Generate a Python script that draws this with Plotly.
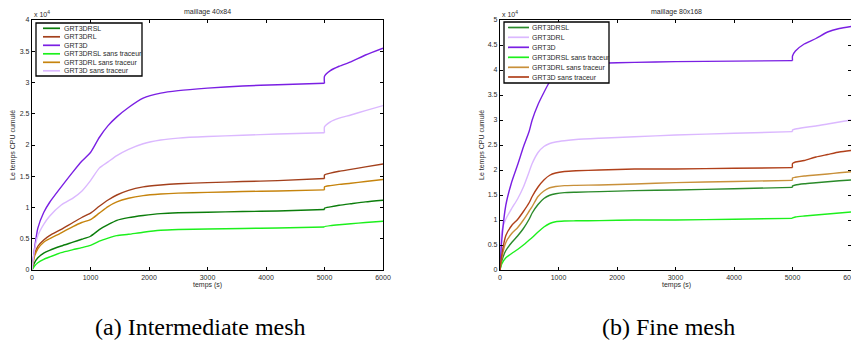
import plotly.graph_objects as go

# ---------------- data ----------------
# Left panel: maillage 40x84 (the restart at t=5000 appears as two consecutive samples at 5000)
t_left = [0, 40, 100, 200, 300, 500, 700, 850, 1000, 1150, 1300, 1450, 1650, 1900,
          2200, 2500, 3000, 3600, 4200, 5000, 5000, 5100, 5250, 5450, 5700, 6000]
left_grt3drsl = [0, 1100, 1950, 2700, 3150, 3840, 4450, 4920, 5400, 6450, 7250, 7950, 8380, 8720,
                 9020, 9150, 9250, 9350, 9450, 9670, 9900, 10100, 10350, 10600, 10900, 11170]
left_grt3drl = [0, 2400, 3800, 4800, 5500, 6500, 7600, 8400, 9100, 10200, 11200, 12000, 12750, 13300,
                13600, 13800, 13980, 14150, 14300, 14630, 15200, 15500, 15800, 16100, 16500, 16950]
left_grt3d = [0, 3200, 6700, 9200, 10800, 13300, 15700, 17400, 18800, 21200, 23100, 24500, 26000, 27500,
              28300, 28700, 29100, 29450, 29650, 29870, 31000, 31900, 32600, 33300, 34400, 35500]
left_grt3drsl_st = [0, 600, 1150, 1700, 2080, 2780, 3250, 3580, 3950, 4620, 5100, 5500, 5710, 6050,
                    6350, 6470, 6570, 6650, 6720, 6890, 6920, 7100, 7250, 7400, 7600, 7800]
left_grt3drl_st = [0, 2100, 3400, 4450, 5000, 5950, 6950, 7600, 8050, 9100, 10150, 10900, 11480, 11900,
                   12150, 12300, 12420, 12550, 12650, 12820, 13300, 13500, 13700, 13880, 14150, 14470]
left_grt3d_st = [0, 3000, 5500, 7300, 8600, 10400, 11500, 12600, 14300, 16300, 17300, 18300, 19300, 20200,
                 20800, 21100, 21350, 21550, 21750, 21960, 22900, 23700, 24300, 24800, 25500, 26300]

# Right panel: maillage 80x168
t_right = [0, 30, 100, 200, 300, 400, 500, 550, 650, 750, 850, 950, 1100, 1300, 1700,
           2300, 3000, 4000, 5000, 5000, 5050, 5200, 5400, 5600, 5800, 6000]
right_grt3drsl = [0, 1800, 3900, 5500, 6800, 8300, 10200, 11400, 13100, 14300, 14950, 15250, 15470, 15550, 15680,
                  15870, 16000, 16250, 16530, 16800, 17000, 17250, 17450, 17650, 17850, 18000]
right_grt3drl = [0, 7800, 10200, 12300, 14200, 16600, 19700, 21300, 23500, 24700, 25300, 25600, 25850, 26100, 26350,
                 26650, 27000, 27350, 27670, 28000, 28200, 28500, 28800, 29200, 29600, 30000]
right_grt3d = [0, 6000, 13000, 17600, 21000, 24600, 27800, 30000, 33100, 35500, 37700, 39400, 40700, 41150, 41350,
               41530, 41670, 41780, 41870, 42800, 43800, 45200, 46300, 47600, 48300, 48700]
right_grt3drsl_st = [0, 1200, 2450, 3300, 4100, 5000, 6000, 6500, 7600, 8600, 9300, 9650, 9800, 9840, 9880,
                     9990, 10000, 10150, 10330, 10400, 10600, 10800, 11000, 11200, 11400, 11600]
right_grt3drl_st = [0, 2400, 5500, 7300, 8450, 10000, 11800, 12700, 14700, 15800, 16450, 16700, 16870, 16930, 17000,
                    17200, 17470, 17700, 17930, 18400, 18550, 18800, 19000, 19200, 19450, 19650]
right_grt3d_st = [0, 3000, 6900, 8900, 10100, 11700, 13500, 14700, 16600, 18000, 18950, 19400, 19700, 19850, 20000,
                  20200, 20200, 20350, 20470, 21300, 21600, 21900, 22600, 23100, 23600, 23900]

names = ["GRT3DRSL", "GRT3DRL", "GRT3D", "GRT3DRSL sans traceur", "GRT3DRL sans traceur", "GRT3D sans traceur"]
left_series = [left_grt3drsl, left_grt3drl, left_grt3d, left_grt3drsl_st, left_grt3drl_st, left_grt3d_st]
right_series = [right_grt3drsl, right_grt3drl, right_grt3d, right_grt3drsl_st, right_grt3drl_st, right_grt3d_st]
left_colors = ["#0b7d0b", "#a3401c", "#7a1fe3", "#1cf01c", "#c6840e", "#dbb8ff"]
right_colors = ["#2a8a2a", "#dbb8ff", "#7a1fe3", "#1cf01c", "#c8903a", "#b0401a"]

x_ticks = [0, 1000, 2000, 3000, 4000, 5000, 6000]
left_y_ticks = [0, 5000, 10000, 15000, 20000, 25000, 30000, 35000, 40000]
left_y_text = ["0", "0.5", "1", "1.5", "2", "2.5", "3", "3.5", "4"]
right_y_ticks = [0, 5000, 10000, 15000, 20000, 25000, 30000, 35000, 40000, 45000, 50000]
right_y_text = ["0", "0.5", "1", "1.5", "2", "2.5", "3", "3.5", "4", "4.5", "5"]

titles = ["maillage 40x84", "maillage 80x168"]
captions = ["(a) Intermediate mesh", "(b) Fine mesh"]

# ---------------- layout helpers ----------------
W, H = 851, 343
def fx(x):
    return x / W
def fy(y):
    return 1 - y / H

FONT = "Liberation Sans, Arial, sans-serif"
TXT = "#2a2a2a"

fig = go.Figure()

def add_series(t, s, color, name, xa, ya):
    # split at the restart (first duplicated time) so the smoothing does not dip before the jump
    k = next(i for i in range(1, len(t)) if t[i] == t[i - 1])
    segs = [(t[:k], s[:k]), (t[k - 1:], s[k - 1:])]
    for tx, sy in segs:
        fig.add_trace(go.Scatter(x=tx, y=sy, mode="lines", name=name, showlegend=False,
                                 line=dict(color=color, width=1.4, shape="spline", smoothing=0.6),
                                 xaxis=xa, yaxis=ya))

for s, c, n in zip(left_series, left_colors, names):
    add_series(t_left, s, c, n, "x", "y")
for s, c, n in zip(right_series, right_colors, names):
    add_series(t_right, s, c, n, "x2", "y2")

def axis(dom, rng, tv, tt, anchor):
    return dict(domain=dom, range=rng, tickvals=tv, ticktext=tt, anchor=anchor,
                showgrid=False, zeroline=False, showline=True, mirror="ticks",
                linecolor="black", linewidth=1.3, ticks="inside", ticklen=3,
                tickcolor="black", tickwidth=1, automargin=False,
                ticklabeloverflow="allow",
                tickfont=dict(family=FONT, size=7, color=TXT))

ydom = [fy(270), fy(20)]
fig.update_layout(
    width=W, height=H, margin=dict(l=0, r=0, t=0, b=0),
    paper_bgcolor="white", plot_bgcolor="white", showlegend=False,
    xaxis=axis([fx(32), fx(383)], [0, 6000], x_ticks, [str(v) for v in x_ticks], "y"),
    yaxis=axis(ydom, [0, 40000], left_y_ticks, left_y_text, "x"),
    xaxis2=axis([fx(500), 1.0], [0, 6000], x_ticks, [str(v) for v in x_ticks], "y2"),
    yaxis2=axis(ydom, [0, 50000], right_y_ticks, right_y_text, "x2"),
)

ann = []
shapes = []
panels = [
    dict(cx=207, left=32, ylab_x=13, title=titles[0], cap=captions[0], cap_x=200,
         colors=left_colors, box=(36, 23, 142, 76), rows=[28.3, 36.8, 45.3, 53.8, 62.3, 70.8],
         line=(43, 60), text_x=62),
    dict(cx=676, left=500, ylab_x=482, title=titles[1], cap=captions[1], cap_x=668,
         colors=right_colors, box=(504, 22, 609, 83), rows=[27.5, 37.3, 47.3, 57.3, 67.3, 77],
         line=(508, 529), text_x=530),
]
for p in panels:
    ann.append(dict(x=fx(p["cx"]), y=fy(12), xref="paper", yref="paper", text=p["title"],
                    showarrow=False, xanchor="center", yanchor="middle",
                    font=dict(family=FONT, size=7, color=TXT)))
    ann.append(dict(x=fx(p["left"]), y=fy(14), xref="paper", yref="paper", text="x 10<sup>4</sup>",
                    showarrow=False, xanchor="left", yanchor="middle",
                    font=dict(family=FONT, size=7, color=TXT)))
    ann.append(dict(x=fx(p["cx"]), y=fy(285), xref="paper", yref="paper", text="temps (s)",
                    showarrow=False, xanchor="center", yanchor="middle",
                    font=dict(family=FONT, size=7, color=TXT)))
    ann.append(dict(x=fx(p["ylab_x"]), y=fy(145), xref="paper", yref="paper", text="Le temps CPU cumulé",
                    showarrow=False, xanchor="center", yanchor="middle", textangle=-90,
                    font=dict(family=FONT, size=7, color=TXT)))
    ann.append(dict(x=fx(p["cap_x"]), y=fy(327), xref="paper", yref="paper", text=p["cap"],
                    showarrow=False, xanchor="center", yanchor="middle",
                    font=dict(family="Liberation Serif, Times New Roman, serif", size=24, color="black")))
    x0, y0, x1, y1 = p["box"]
    shapes.append(dict(type="rect", xref="paper", yref="paper", x0=fx(x0), x1=fx(x1), y0=fy(y1), y1=fy(y0),
                       line=dict(color="black", width=1.3), fillcolor="white", layer="above"))
    for n, c, ry in zip(names, p["colors"], p["rows"]):
        shapes.append(dict(type="line", xref="paper", yref="paper", x0=fx(p["line"][0]), x1=fx(p["line"][1]),
                           y0=fy(ry), y1=fy(ry), line=dict(color=c, width=1.7), layer="above"))
        ann.append(dict(x=fx(p["text_x"]), y=fy(ry), xref="paper", yref="paper", text=n,
                        showarrow=False, xanchor="left", yanchor="middle",
                        font=dict(family=FONT, size=7, color=TXT)))

fig.update_layout(annotations=ann, shapes=shapes)
fig.write_html("out.html")
